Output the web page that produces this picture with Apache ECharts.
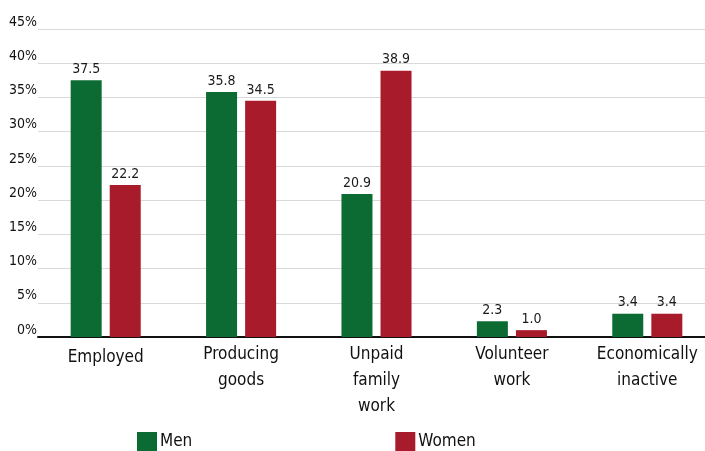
<!DOCTYPE html>
<html>
<head>
<meta charset="utf-8">
<script src="https://cdn.jsdelivr.net/npm/echarts@6/dist/echarts.min.js"></script>
<style>
  html, body { margin: 0; padding: 0; background: #fff; }
  #chart { width: 705px; height: 451px; }
</style>
</head>
<body>
<div id="chart"></div>
<script>
const categories = ['Employed', 'Producing\ngoods', 'Unpaid\nfamily\nwork', 'Volunteer\nwork', 'Economically\ninactive'];
const menValues = [37.5, 35.8, 20.9, 2.3, 3.4];
const womenValues = [22.2, 34.5, 38.9, 1.0, 3.4];
const yTicks = [0, 5, 10, 15, 20, 25, 30, 35, 40, 45];

const FONT = '"Liberation Sans Narrow", "DejaVu Sans Condensed", "Liberation Sans", sans-serif';
const GREEN = '#0b6b32';
const RED = '#a71b2b';

const chart = echarts.init(document.getElementById('chart'));

const valueLabel = {
  show: true,
  position: 'top',
  distance: 4,
  fontFamily: FONT,
  fontSize: 14,
  color: '#1a1a1a',
  formatter: p => p.value.toFixed(1)
};

chart.setOption({
  animation: false,
  textStyle: { fontFamily: FONT },
  grid: { left: 38, top: 29, width: 677, height: 308, containLabel: false, outerBoundsMode: 'none' },
  legend: {
    left: 132,
    top: 427,
    itemWidth: 20,
    itemHeight: 20,
    itemGap: 203,
    icon: 'rect',
    textStyle: { fontFamily: FONT, fontSize: 17, color: '#111', padding: [0, 0, 0, -2] },
    data: ['Men', 'Women']
  },
  xAxis: {
    type: 'category',
    data: categories,
    axisTick: { show: false },
    axisLine: { lineStyle: { color: '#111', width: 2 } },
    axisLabel: {
      fontFamily: FONT,
      fontSize: 17,
      color: '#111',
      lineHeight: 26,
      margin: 5,
      interval: 0,
      // single-line labels sit a little lower than the wrapped ones
      formatter: v => v.indexOf('\n') < 0 ? '{one|' + v + '}' : v,
      rich: {
        one: { fontFamily: FONT, fontSize: 17, color: '#111', lineHeight: 26, padding: [6, 0, 0, 0] }
      }
    }
  },
  yAxis: {
    type: 'value',
    min: yTicks[0],
    max: yTicks[yTicks.length - 1],
    interval: 5,
    axisLine: { show: false },
    axisTick: { show: false },
    splitLine: { lineStyle: { color: '#d9d9d9', width: 1 } },
    axisLabel: {
      fontFamily: FONT,
      fontSize: 14,
      color: '#111',
      margin: 1,
      verticalAlign: 'bottom',
      formatter: v => v + '%'
    }
  },
  series: [
    {
      name: 'Men',
      type: 'bar',
      data: menValues,
      barWidth: 31,
      barGap: '26%',
      itemStyle: { color: GREEN },
      label: valueLabel
    },
    {
      name: 'Women',
      type: 'bar',
      data: womenValues,
      barWidth: 31,
      barGap: '26%',
      itemStyle: { color: RED },
      label: valueLabel
    }
  ]
});
</script>
</body>
</html>
